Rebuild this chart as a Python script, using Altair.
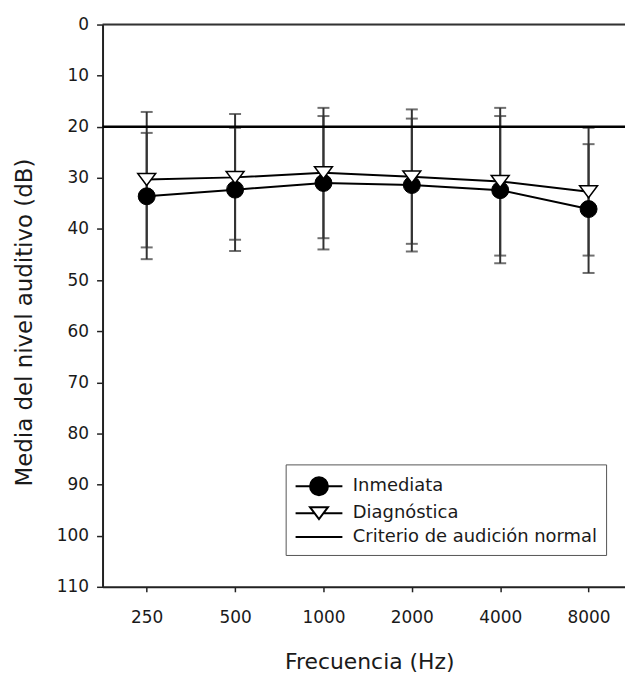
import altair as alt
import pandas as pd

# ---- data ----
freqs = ["250", "500", "1000", "2000", "4000", "8000"]
inm_mean = [33.6, 32.3, 31.0, 31.4, 32.4, 36.1]
inm_top = [21.2, 20.2, 17.9, 18.4, 17.9, 23.4]
inm_bot = [45.9, 44.3, 44.0, 44.4, 46.7, 48.6]
dia_mean = [30.3, 29.9, 29.0, 29.8, 30.7, 32.7]
dia_top = [17.1, 17.5, 16.3, 16.6, 16.3, 20.2]
dia_bot = [43.6, 42.1, 41.8, 42.9, 45.2, 45.2]
criterion = 20
series_names = ["Inmediata", "Diagnóstica", "Criterio de audición normal"]
y_ticks = list(range(0, 111, 10))

FONT = "DejaVu Sans"
TXT = "#1a1a1a"

rows = []
for i, f in enumerate(freqs):
    rows.append(dict(freq=f, series=series_names[0], mean=inm_mean[i], lo=inm_top[i], hi=inm_bot[i]))
    rows.append(dict(freq=f, series=series_names[1], mean=dia_mean[i], lo=dia_top[i], hi=dia_bot[i]))
df = pd.DataFrame(rows)

caps = pd.concat([
    df[["freq", "series", "lo"]].rename(columns={"lo": "v"}),
    df[["freq", "series", "hi"]].rename(columns={"hi": "v"}),
])

legend_df = pd.DataFrame(dict(series=series_names, freq=[freqs[0]] * 3,
                              mean=[inm_mean[0], dia_mean[0], criterion]))

x_scale = alt.Scale(type="point", domain=freqs, padding=0.456, align=0.548)
y_scale = alt.Scale(domain=[0, 110], reverse=True, nice=False, zero=False)

x_axis = alt.Axis(title="Frecuencia (Hz)", titleFont=FONT, titleFontSize=22, titleFontWeight="normal",
                  titleColor=TXT, titleX=268, titleY=75, titleBaseline="middle", titleAlign="center",
                  labelAngle=0, labelFont=FONT, labelFontSize=17, labelColor=TXT, labelPadding=18,
                  tickSize=5, tickWidth=1.5, tickColor="#222", domainColor="#222", domainWidth=2,
                  grid=False)
y_axis = alt.Axis(title="Media del nivel auditivo (dB)", values=y_ticks, titleFont=FONT, titleFontSize=23,
                  titleFontWeight="normal", titleColor=TXT, titleAngle=270, titleX=-78, titleY=299,
                  titleBaseline="middle", titleAlign="center",
                  labelFont=FONT, labelFontSize=17, labelColor=TXT, labelPadding=8,
                  tickSize=6, tickWidth=1.5, tickColor="#222", domainColor="#222", domainWidth=2,
                  grid=False)

X = alt.X("freq:O", scale=x_scale, axis=x_axis, sort=freqs)

def Y(field):
    return alt.Y(field, type="quantitative", scale=y_scale, axis=y_axis)

base = alt.Chart(df)

err = base.mark_rule(color="#333", strokeWidth=2).encode(x=X, y=Y("lo"), y2="hi")
cap = alt.Chart(caps).mark_tick(orient="horizontal", color="#333", thickness=2, size=12).encode(x=X, y=Y("v"))

crit = alt.Chart(pd.DataFrame({"v": [criterion]})).mark_rule(color="black", strokeWidth=2.5).encode(y=Y("v"))
top = alt.Chart(pd.DataFrame({"v": [y_ticks[0]]})).mark_rule(color="#333", strokeWidth=2).encode(y=Y("v"))

lines = base.mark_line(color="black", strokeWidth=2).encode(x=X, y=Y("mean"), detail="series:N")

pts_inm = base.transform_filter(alt.datum.series == series_names[0]).mark_point(
    shape="circle", filled=True, fill="black", stroke="black", strokeWidth=1, size=290, opacity=1
).encode(x=X, y=Y("mean"))

TRI = "M-1,-0.667L1,-0.667L0,0.667Z"
pts_dia = base.transform_filter(alt.datum.series == series_names[1]).mark_point(
    shape=TRI, filled=True, fill="white", stroke="black", strokeWidth=1.5, size=324, opacity=1
).encode(x=X, y=Y("mean"))

# legend symbols (line + marker); unit = 12 px (symbol size 576), lines reach +-1.96 units
LEG_CIRCLE = ("M-1.96,0L-0.75,0M0.75,0L1.96,0"
              "M-0.75,0A0.75,0.75,0,1,0,0.75,0A0.75,0.75,0,1,0,-0.75,0Z")
LEG_TRI = "M-1.96,0L-0.375,0M0.375,0L1.96,0M-0.75,-0.5L0.75,-0.5L0,0.5Z"
LEG_LINE = "M-1.96,0L1.96,0"

leg = alt.Legend(title=None, orient="none", legendX=184, legendY=442, symbolSize=576,
                 symbolStrokeWidth=2, symbolStrokeColor="black", symbolOpacity=1,
                 symbolOffset=11.5, labelLimit=400,
                 labelFont=FONT, labelFontSize=18, labelColor=TXT, labelOffset=21,
                 padding=9, rowPadding=1, strokeColor="#555", fillColor="white")

legend_layer = alt.Chart(legend_df).mark_point(opacity=0, filled=False).encode(
    x=X, y=Y("mean"),
    shape=alt.Shape("series:N", scale=alt.Scale(domain=series_names, range=[LEG_CIRCLE, LEG_TRI, LEG_LINE]),
                    legend=leg),
    fill=alt.Fill("series:N", scale=alt.Scale(domain=series_names, range=["black", "white", "black"]),
                  legend=leg),
    stroke=alt.Stroke("series:N", scale=alt.Scale(domain=series_names, range=["black", "black", "black"]),
                      legend=leg),
)

chart = alt.layer(err, cap, crit, top, lines, pts_inm, pts_dia, legend_layer).properties(
    width=525, height=565,
    autosize=alt.AutoSizeParams(type="none"),
    padding={"left": 95, "top": 15, "right": 0, "bottom": 88},
).configure_view(stroke=None).configure(font=FONT)

chart.save("out.html", embed_options={"renderer": "svg", "actions": False})
